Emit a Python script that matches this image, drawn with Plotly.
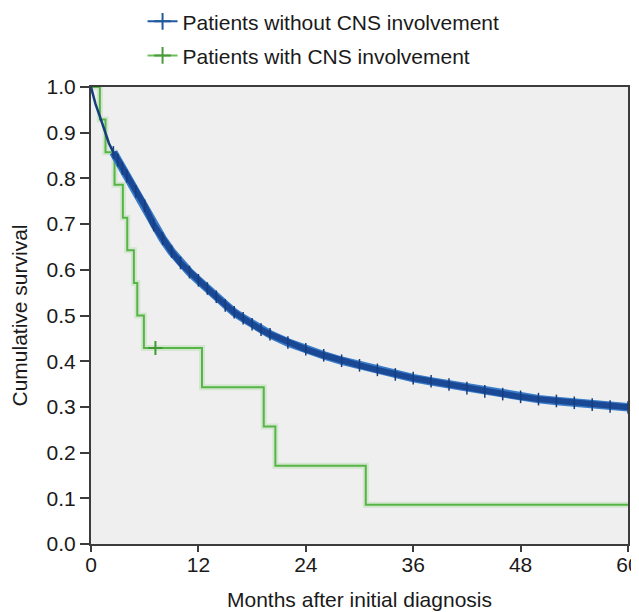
import plotly.graph_objects as go

# Blue: patients without CNS involvement
blue_months = [0, 0.25, 0.5, 1, 1.5, 2, 2.5, 3, 3.5, 4, 5, 6, 7, 8, 9, 10, 11, 12, 13, 14,
               15, 16, 17, 18, 19, 20, 22, 24, 26, 28, 30, 32, 34, 36, 38, 40, 42, 44, 46,
               48, 50, 52, 54, 56, 58, 60]
blue_surv = [1.0, 0.98, 0.963, 0.935, 0.905, 0.877, 0.857, 0.84, 0.822, 0.805, 0.772, 0.74,
             0.698, 0.668, 0.64, 0.615, 0.595, 0.577, 0.559, 0.541, 0.522, 0.507, 0.494,
             0.481, 0.469, 0.459, 0.441, 0.426, 0.413, 0.401, 0.391, 0.381, 0.371, 0.363,
             0.356, 0.349, 0.341, 0.334, 0.328, 0.322, 0.317, 0.313, 0.309, 0.305, 0.301,
             0.299]

# Green: patients with CNS involvement (step function)
green_months = [0, 0.99, 1.62, 2.63, 3.56, 4.05, 4.79, 5.17, 5.91, 12.4, 19.3, 20.6, 30.7, 60]
green_surv = [1.0, 0.929, 0.857, 0.786, 0.714, 0.643, 0.571, 0.5, 0.429, 0.343, 0.257,
              0.171, 0.086, 0.086]
green_censor_months = [7.2]
green_censor_surv = [0.429]

x_ticks = [0, 12, 24, 36, 48, 60]
y_ticks = [0.0, 0.1, 0.2, 0.3, 0.4, 0.5, 0.6, 0.7, 0.8, 0.9, 1.0]

BLUE_DARK = "#163e7e"
BLUE = "#1b4894"
BLUE_LIGHT = "#3a7cc8"
GREEN = "#55b545"
FONT = "Liberation Sans, Arial, sans-serif"

W, H = 639, 604  # page body adds an 8px offset

fig = go.Figure()

# green halo + line
fig.add_trace(go.Scatter(x=green_months, y=green_surv, mode="lines",
                         line=dict(color="rgba(120,200,100,0.22)", width=6, shape="hv"),
                         showlegend=False, hoverinfo="skip"))
fig.add_trace(go.Scatter(x=green_months, y=green_surv, mode="lines",
                         line=dict(color=GREEN, width=2, shape="hv"),
                         showlegend=False))
fig.add_trace(go.Scatter(x=green_censor_months, y=green_censor_surv, mode="markers",
                         marker=dict(symbol="cross-thin", size=10,
                                     line=dict(color="#3f9a34", width=2)),
                         showlegend=False))

# blue thin early part
fig.add_trace(go.Scatter(x=blue_months, y=blue_surv, mode="lines",
                         line=dict(color=BLUE_DARK, width=2.5),
                         showlegend=False))
# blue dense censored band
start = 6
fig.add_trace(go.Scatter(x=blue_months[start:], y=blue_surv[start:], mode="lines",
                         line=dict(color=BLUE_LIGHT, width=8.5),
                         showlegend=False, hoverinfo="skip"))
fig.add_trace(go.Scatter(x=blue_months[start:], y=blue_surv[start:], mode="lines+markers",
                         line=dict(color=BLUE, width=6),
                         marker=dict(symbol="line-ns", size=9,
                                     line=dict(color=BLUE_DARK, width=1.5)),
                         showlegend=False))

# legend entries
fig.add_trace(go.Scatter(x=[None], y=[None], mode="lines+markers",
                         name="Patients without CNS involvement", legend="legend",
                         line=dict(color="#1f5a9e", width=2),
                         marker=dict(symbol="cross-thin", size=12,
                                     line=dict(color="#1f5a9e", width=2))))
fig.add_trace(go.Scatter(x=[None], y=[None], mode="lines+markers",
                         name="Patients with CNS involvement", legend="legend2",
                         line=dict(color="#6cc05c", width=2),
                         marker=dict(symbol="cross-thin", size=12,
                                     line=dict(color="#4a9a3c", width=2))))

axis_common = dict(showgrid=False, zeroline=False, showline=True, linecolor="#3c3c3c",
                   linewidth=2, mirror=True, ticks="outside", tickwidth=2,
                   tickcolor="#3c3c3c", automargin=False, ticklabeloverflow="allow",
                   tickfont=dict(family=FONT, size=21, color="#1a1a1a"))

fig.update_layout(
    width=W, height=H,
    margin=dict(l=83, r=19, t=79, b=68),
    paper_bgcolor="white", plot_bgcolor="#efefef",
    font=dict(family=FONT, size=21, color="#1a1a1a"),
    xaxis=dict(range=[0, 60], tickvals=x_ticks, ticktext=[str(v) for v in x_ticks],
               ticklen=6, ticklabelstandoff=-5,
               title=dict(text="Months after initial diagnosis",
                          font=dict(family=FONT, size=21), standoff=17),
               **axis_common),
    yaxis=dict(range=[0, 1], tickvals=y_ticks, ticktext=[f"{v:.1f}" for v in y_ticks],
               ticklen=9,
               title=dict(text="Cumulative survival",
                          font=dict(family=FONT, size=21), standoff=14),
               **axis_common),
    legend=dict(x=0.096, y=1 - 13.7 / H, yref="container", xanchor="left", yanchor="middle",
                bgcolor="rgba(0,0,0,0)", font=dict(family=FONT, size=21)),
    legend2=dict(x=0.096, y=1 - 47.8 / H, yref="container", xanchor="left", yanchor="middle",
                 bgcolor="rgba(0,0,0,0)", font=dict(family=FONT, size=21)),
    showlegend=True,
)

fig.write_html("out.html")
